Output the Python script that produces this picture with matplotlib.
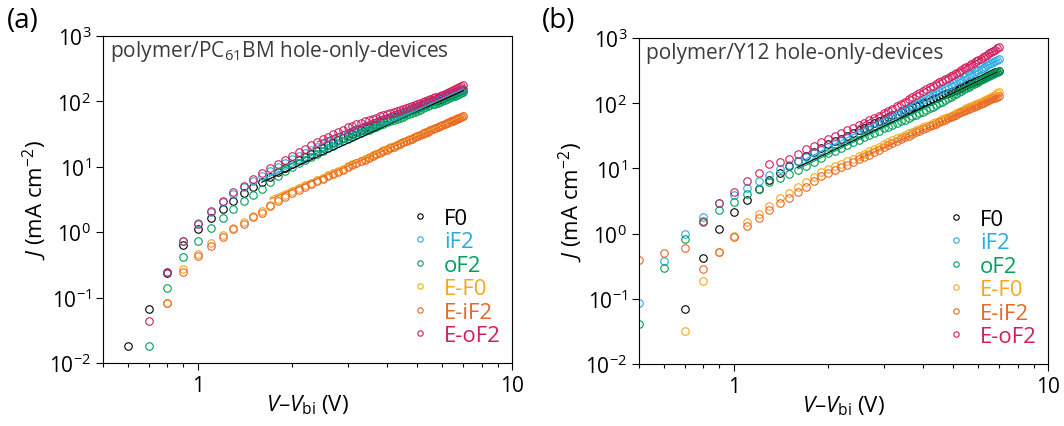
import numpy as np
import matplotlib.pyplot as plt

plt.rcParams['font.family'] = ['Open Sans', 'DejaVu Sans']
plt.rcParams['mathtext.fontset'] = 'custom'
plt.rcParams['mathtext.rm'] = 'Open Sans'
plt.rcParams['mathtext.it'] = 'Open Sans:italic'
plt.rcParams['mathtext.bf'] = 'Open Sans:bold'
plt.rcParams['axes.unicode_minus'] = False

nan = np.nan

names = ['F0', 'iF2', 'oF2', 'E-F0', 'E-iF2', 'E-oF2']
colors = ['#000000', '#2aaae2', '#00a05a', '#f5a81c', '#e8672a', '#cf1f5e']

# (a) polymer/PC61BM, V - Vbi = 0.6 ... 7.0 V
V_a = np.round(np.arange(0.6, 7.05, 0.1), 1)
F0_a = [0.018, 0.067, 0.24, 0.64, 1.10, 1.65, 2.30, 3.00, 4.00, 4.90, 5.90, 7.00,
        8.20, 9.50, 11.0, 12.5, 14.0, 15.7, 17.6, 19.5, 21.4, 23.4, 25.5, 27.7, 30.0,
        32.1, 34.2, 36.4, 38.7, 41.0, 43.3, 45.6, 48.0, 50.5, 53.0, 55.3, 57.7, 60.1,
        62.5, 65.0, 67.9, 70.8, 73.8, 76.9, 80.0, 83.3, 86.6, 90.0, 93.5, 97.0, 100.0,
        103.0, 106.5, 109.7, 113.0, 116.7, 120.4, 124.2, 128.1, 132.0, 135.7, 139.5,
        143.3, 147.1, 151.0]
iF2_a = [nan, nan, 0.25, 0.74, 1.37, 2.05, 2.9, 3.8, 4.9, 6.0, 7.3, 8.6,
         10.0, 11.5, 13.0, 14.6, 16.2, 18.1, 20.1, 22.0, 24.0, 26.1, 28.3, 30.6, 33.0,
         35.1, 37.3, 39.5, 41.8, 43.9, 46.2, 48.6, 51.1, 53.6, 56.2, 58.5, 60.9, 63.3,
         65.8, 68.3, 71.2, 74.1, 77.0, 80.1, 83.2, 86.5, 89.9, 93.3, 96.9, 100.4, 103.4,
         106.4, 109.9, 113.1, 116.4, 120.2, 124.0, 127.9, 131.9, 136.0, 139.8, 143.7,
         147.6, 151.5, 155.5]
oF2_a = [nan, 0.018, 0.142, 0.42, 0.74, 1.15, 1.67, 2.24, 2.96, 3.75, 4.57, 5.8,
         7.2, 8.5, 9.9, 11.3, 12.6, 14.2, 15.9, 17.6, 19.3, 21.1, 23.0, 24.9, 27.0,
         28.9, 30.8, 32.8, 34.8, 36.9, 39.0, 41.0, 43.2, 45.5, 47.7, 49.8, 51.9, 54.1,
         56.3, 58.5, 61.1, 63.7, 66.4, 69.2, 72.0, 75.0, 77.9, 81.0, 84.2, 87.3, 90.0,
         92.7, 95.9, 98.7, 101.7, 105.1, 108.4, 112.0, 115.7, 119.3, 122.8, 126.4,
         130.0, 133.7, 137.5]
EF0_a = [nan, nan, 0.084, 0.27, 0.46, 0.68, 0.92, 1.16, 1.41, 1.79, 2.13, 2.65,
         3.2, 3.7, 4.2, 4.7, 5.19, 5.71, 6.26, 6.83, 7.43, 8.06, 8.72, 9.40, 10.11,
         10.85, 11.61, 12.41, 13.23, 14.08, 14.96, 15.87, 16.81, 17.77, 18.76, 19.78,
         20.83, 21.91, 22.97, 24.06, 25.18, 26.33, 27.50, 28.70, 29.93, 31.18, 32.46,
         33.77, 35.10, 36.46, 37.85, 39.26, 40.70, 42.17, 43.66, 45.18, 46.73, 48.30,
         49.90, 51.53, 53.18, 54.86, 56.57, 58.31, 60.07]
EiF2_a = [nan, nan, 0.084, 0.25, 0.44, 0.62, 0.85, 1.12, 1.35, 1.69, 2.0, 2.5,
          3.0, 3.45, 3.95, 4.45, 4.94, 5.45, 5.98, 6.54, 7.13, 7.75, 8.41, 9.08, 9.79,
          10.52, 11.27, 12.06, 12.87, 13.71, 14.59, 15.49, 16.42, 17.38, 18.37, 19.38,
          20.41, 21.47, 22.53, 23.60, 24.73, 25.86, 27.03, 28.21, 29.45, 30.68, 31.97,
          33.26, 34.61, 35.95, 37.36, 38.75, 40.21, 41.66, 43.18, 44.68, 46.26, 47.82,
          49.40, 51.01, 52.65, 54.31, 56.00, 57.73, 59.47]
EoF2_a = [nan, 0.044, 0.25, 0.74, 1.35, 2.1, 2.96, 4.07, 5.14, 6.4, 7.9, 9.5,
          11.0, 12.8, 14.8, 16.9, 18.9, 21.3, 23.9, 26.5, 29.0, 31.6, 34.3, 37.1, 39.9,
          42.2, 44.5, 46.9, 49.3, 51.7, 54.2, 56.7, 59.3, 62.0, 64.7, 67.0, 69.5, 71.9,
          74.3, 76.7, 79.7, 82.7, 85.8, 88.9, 92.0, 95.3, 98.6, 101.9, 105.3, 108.6,
          111.8, 115.0, 118.6, 122.0, 125.4, 130.0, 134.6, 139.4, 144.2, 149.2, 154.7,
          160.4, 166.2, 172.1, 178.2]

# (b) polymer/Y12, V - Vbi = 0.5 ... 7.0 V
V_b = np.round(np.arange(0.5, 7.05, 0.1), 1)
F0_b = [nan, nan, 0.07, 0.42, 1.17, 2.13, 3.3, 4.8, 6.6, 8.5, 10.8, 13.0, 15.5,
        18.0, 20.7, 23.5, 26.0, 28.7, 31.7, 35.0, 38.6, 41.9, 45.4, 49.3, 53.5, 58.0,
        61.5, 65.2, 69.1, 73.3, 77.7, 81.7, 86.0, 90.4, 95.1, 100, 104.7, 109.7, 114.9,
        120.3, 126, 131.3, 136.9, 142.7, 148.7, 155, 161.4, 168.0, 174.9, 182.1, 189.6,
        196.7, 204.1, 211.8, 219.8, 228, 235.8, 243.9, 252.3, 261.0, 270, 278.6, 287.5,
        296.7, 306.2, 316]
iF2_b = [0.086, 0.38, 0.99, 1.82, 2.95, 3.9, 4.95, 6.4, 7.8, 9.8, 11.2, 13.0, 14.9,
         17.0, 19.2, 21.5, 23.7, 26.1, 28.8, 31.8, 35.0, 38.2, 41.6, 45.4, 49.5, 54,
         58.6, 63.5, 68.9, 74.7, 81, 86.6, 92.5, 98.9, 105.7, 113, 119.9, 127.2, 135.0,
         143.3, 152, 161.4, 171.3, 181.9, 193.1, 205, 215.3, 226.2, 237.5, 249.5,
         262, 272.7, 283.8, 295.4, 307.5, 320, 333.8, 348.1, 363.1, 378.7, 395, 410.7,
         427.0, 443.9, 461.6, 480]
oF2_b = [0.041, 0.30, 0.83, 1.58, 2.3, 3.1, 4.05, 4.9, 6.25, 7.1, 8.2, 9.5, 11.0,
         12.6, 14.6, 17, 18.7, 20.6, 22.7, 25.1, 27.6, 29.9, 32.3, 35.0, 37.9, 41,
         43.7, 46.5, 49.5, 52.8, 56.2, 59.4, 62.7, 66.3, 70.0, 74, 78.6, 83.5, 88.7,
         94.2, 100, 105.7, 111.7, 118.1, 124.9, 132, 139.2, 146.7, 154.7, 163.1, 172,
         179.8, 188.0, 196.6, 205.6, 215, 223.7, 232.7, 242.1, 251.8, 262, 272.0,
         282.4, 293.2, 304.4, 316]
EF0_b = [nan, nan, 0.032, 0.19, 0.53, 0.91, 1.49, 2.0, 2.68, 3.5, 4.15, 5.25, 6.25,
         7.5, 8.7, 9.8, 10.74, 11.77, 12.9, 14.14, 15.5, 16.85, 18.31, 19.9, 21.63, 23.5,
         25.15, 26.92, 28.81, 30.83, 33, 34.8, 36.69, 38.68, 40.79, 43, 45.0, 47.1,
         49.3, 51.6, 54, 56.4, 58.9, 61.5, 64.2, 67, 69.9, 73.0, 76.2, 79.5, 83, 86.2,
         89.4, 92.8, 96.3, 100, 103.7, 107.6, 111.6, 115.7, 120, 125.0, 130.1, 135.5,
         141.1, 147]
EiF2_b = [0.40, 0.50, 0.61, 0.29, 0.53, 0.9, 1.29, 1.75, 2.3, 2.95, 3.5, 4.3, 5.2,
          6.4, 7.6, 8.6, 9.45, 10.39, 11.42, 12.55, 13.8, 15.01, 16.32, 17.75, 19.31, 21,
          22.55, 24.22, 26.01, 27.93, 30, 31.8, 33.7, 35.7, 37.8, 40, 42.0, 44.1, 46.3,
          48.6, 51, 53.4, 55.9, 58.5, 61.2, 64, 66.8, 69.6, 72.6, 75.7, 79, 82.0, 85.1,
          88.3, 91.6, 95, 98.0, 101.1, 104.3, 107.6, 111, 114.6, 118.2, 122.0, 125.9, 130]
EoF2_b = [nan, nan, nan, 1.49, 2.98, 4.4, 6.4, 8.5, 11.7, 12.4, 13.9, 16.6, 19.5,
          22.0, 25.0, 28.5, 31.4, 34.7, 38.2, 42.2, 46.5, 50.5, 54.8, 59.4, 64.5, 70,
          76.1, 82.6, 89.8, 97.5, 106, 114.4, 123.4, 133.2, 143.7, 155, 164.7, 175.0,
          186.0, 197.6, 210, 221.6, 233.9, 246.9, 260.6, 275, 290.2, 306.3, 323.2, 341.1,
          360, 378.1, 397.1, 417.1, 438.1, 460, 482.7, 506.5, 531.4, 557.6, 585, 609.8,
          635.7, 662.7, 690.8, 720]

# space-charge-limited fits (start/end points), same order as names
fitV_a = [[1.6, 7.0], [1.6, 7.0], [1.8, 7.0], [1.7, 7.0], [1.7, 7.0], [2.4, 7.0]]
fitJ_a = [[5.8, 146], [6.3, 155], [9.2, 133], [3.4, 60], [3.2, 58], [24, 175]]
fitV_b = [[1.6, 6.9], [1.7, 7.0], [1.6, 7.0], [2.5, 7.0], [2.5, 7.0], [2.5, 7.0]]
fitJ_b = [[10.4, 300], [14, 470], [9.8, 300], [16, 145], [14, 130], [45, 700]]

data_a = [F0_a, iF2_a, oF2_a, EF0_a, EiF2_a, EoF2_a]
data_b = [F0_b, iF2_b, oF2_b, EF0_b, EiF2_b, EoF2_b]

fig = plt.figure(figsize=(10.64, 4.27), dpi=100)
axa = fig.add_axes([103/1064, 63/427, 409/1064, 327/427])
axb = fig.add_axes([639/1064, 62/427, 409/1064, 326/427])

panels = [(axa, V_a, data_a, fitV_a, fitJ_a, 'polymer/PC$_{61}$BM hole-only-devices'),
          (axb, V_b, data_b, fitV_b, fitJ_b, 'polymer/Y12 hole-only-devices')]

for ax, V, data, fv, fj, title in panels:
    for J, fvv, fjj, c, name in zip(data, fv, fj, colors, names):
        ax.plot(fvv, fjj, '-', color=c, lw=0.8, zorder=3)
        ax.plot(V, J, 'o', mfc='none', mec=c, ms=5.4, mew=0.8, label=name, zorder=2)
    ax.set_xscale('log')
    ax.set_yscale('log')
    ax.set_xlim(0.5, 10)
    ax.set_ylim(1e-2, 1e3)
    ax.set_yticks([1e-2, 1e-1, 1e0, 1e1, 1e2, 1e3])
    ax.set_yticklabels(['10$^{-2}$', '10$^{-1}$', '10$^{0}$', '10$^{1}$', '10$^{2}$', '10$^{3}$'])
    ax.yaxis.set_minor_locator(plt.NullLocator())
    ax.set_xticks([1, 10])
    ax.set_xticklabels(['1', '10'])
    ax.tick_params(which='both', direction='out', width=0.8, labelsize=15, top=False, right=False)
    ax.tick_params(which='major', length=5)
    ax.tick_params(which='minor', length=3)
    for s in ax.spines.values():
        s.set_linewidth(0.8)
    ax.set_xlabel(r'$V$–$V_{\mathrm{bi}}$ (V)', fontsize=16)
    ax.set_ylabel(r'$J$ (mA cm$^{-2}$)', fontsize=16)
    ax.xaxis.set_label_coords(0.5, -0.09)
    ax.yaxis.set_label_coords(-0.135, 0.5)
    ax.text(0.017, 0.955, title, transform=ax.transAxes, ha='left', va='center',
            fontsize=15, color='#3c3c3c')
    ax.legend(loc='lower right', bbox_to_anchor=(1.0, 0.018), frameon=False,
              fontsize=16, handlelength=0.6, handletextpad=0.8, labelspacing=0.11,
              borderpad=0, markerscale=0.72, labelcolor='markeredgecolor')

fig.text(7/1064, 1 - 21/427, '(a)', fontsize=20, ha='left', va='center')
fig.text(542/1064, 1 - 21/427, '(b)', fontsize=20, ha='left', va='center')

fig.savefig('out.png', dpi=100)
